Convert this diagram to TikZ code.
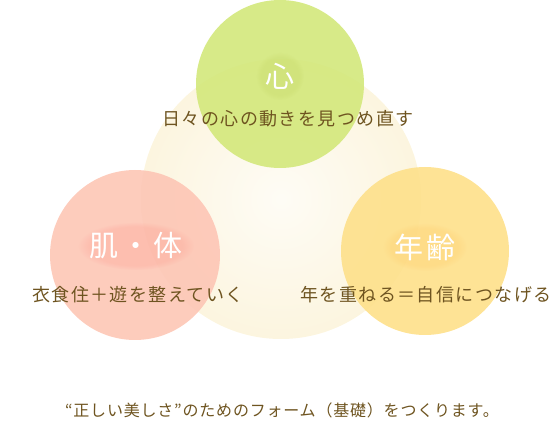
\documentclass[tikz,border=0pt]{standalone}
\usepackage{fontspec}
\setmainfont{Noto Sans CJK JP}
\usetikzlibrary{fadings}

\definecolor{gruen}{HTML}{D3E87B}
\definecolor{rosa}{HTML}{FDC6B5}
\definecolor{gelb}{HTML}{FEE08A}
\definecolor{creme}{HTML}{FCF5DF}
\definecolor{braun}{HTML}{6E5420}

\tikzset{
  kreis/.style={opacity=0.9},
  schein/.style={path fading=circle with fuzzy edge 20 percent, fill opacity=0.3},
  titel/.style={text=white, font=\fontsize{29}{29}\selectfont\addfontfeature{LetterSpace=12}},
  satz/.style={text=braun, font=\fontsize{18}{18}\selectfont\addfontfeature{LetterSpace=8}},
}

\begin{document}
\begin{tikzpicture}[x=1pt, y=-1pt]

				      \useasboundingbox (0,0) rectangle (560,430);

				      % Grundkreis
				      \shade[inner color=creme!30, outer color=creme] (281,199) circle (140);

				      % Kreise
				      \fill[gruen, kreis] (280,84) circle (84);
				      \fill[rosa, kreis] (135,255) circle (85);
				      \fill[gelb, kreis] (425,251) circle (84);

				      % Schein hinter den Titeln
				      \fill[gruen!85!olive, schein] (280,76) ellipse (24 and 24);
				      \fill[rosa!80!red, schein] (136,246) ellipse (58 and 24);
				      \fill[gelb!80!orange, schein] (425,247) ellipse (42 and 24);

				      % Titel
				      \node[titel] (kokoro) at (280,76) {心};
				      \node[titel] (hada) at (136,246) {肌・体};
				      \node[titel] (nenrei) at (425,247) {年齢};

				      % Beschriftung
				      \node[satz] (kokorotext) at (288,119) {日々の心の動きを見つめ直す};
				      \node[satz] (hadatext) at (138,295) {衣食住＋遊を整えていく};
				      \node[satz] (nenreitext) at (426,295) {年を重ねる＝自信につなげる};

				      \node[text=braun, font=\fontsize{16}{16}\selectfont\addfontfeature{LetterSpace=5}] (form) at (282,410) {“正しい美しさ”のためのフォーム（基礎）をつくります。};

			      \end{tikzpicture}
\end{document}
